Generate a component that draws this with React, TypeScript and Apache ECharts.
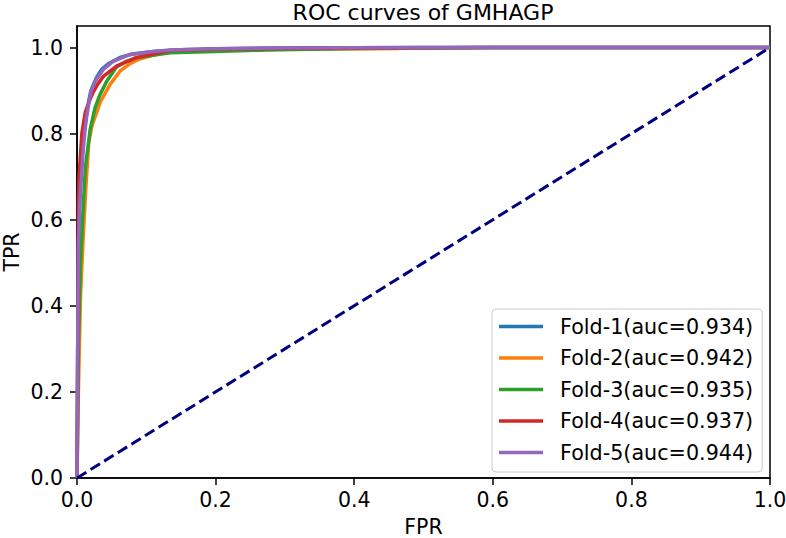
import React, { useEffect, useRef } from "react";
import * as echarts from "echarts";

const foldNames = [
  "Fold-1(auc=0.934)",
  "Fold-2(auc=0.942)",
  "Fold-3(auc=0.935)",
  "Fold-4(auc=0.937)",
  "Fold-5(auc=0.944)",
];
const foldColors = ["#1f77b4", "#ff7f0e", "#2ca02c", "#d62728", "#9467bd"];

// [FPR, TPR] points
const fold1 = [
  [0, 0], [0.001, 0.3], [0.003, 0.6], [0.006, 0.72], [0.01, 0.8], [0.015, 0.86],
  [0.02, 0.9], [0.028, 0.93], [0.036, 0.95], [0.045, 0.962], [0.062, 0.977],
  [0.08, 0.985], [0.11, 0.991], [0.15, 0.995], [0.2, 0.997], [0.3, 0.999], [0.5, 1], [1, 1],
];
const fold2 = [
  [0, 0], [0.002, 0.2], [0.005, 0.42], [0.009, 0.56], [0.013, 0.68], [0.017, 0.78],
  [0.022, 0.82], [0.034, 0.875], [0.048, 0.915], [0.062, 0.945], [0.075, 0.961],
  [0.088, 0.972], [0.115, 0.985], [0.134, 0.989], [0.2, 0.994], [0.3, 0.996], [0.465, 0.998],
];
const fold3 = [
  [0, 0], [0.002, 0.3], [0.005, 0.5], [0.008, 0.6], [0.012, 0.72], [0.019, 0.81],
  [0.026, 0.86], [0.033, 0.89], [0.043, 0.922], [0.057, 0.955], [0.07, 0.967],
  [0.086, 0.976], [0.134, 0.988], [0.2, 0.991], [0.27, 0.994], [0.4, 0.998], [0.6, 1], [1, 1],
];
const fold4 = [
  [0, 0], [0.0005, 0.06], [0.001, 0.3], [0.002, 0.64], [0.003, 0.7], [0.007, 0.8],
  [0.012, 0.85], [0.019, 0.88], [0.023, 0.895], [0.03, 0.915], [0.038, 0.933],
  [0.057, 0.957], [0.086, 0.977], [0.134, 0.993], [0.2, 0.996], [0.3, 0.998],
  [0.45, 0.999], [0.6, 1], [1, 1],
];
const fold5 = [
  [0, 0], [0.001, 0.3], [0.002, 0.546], [0.004, 0.64], [0.009, 0.763], [0.0116, 0.809],
  [0.014, 0.84], [0.018, 0.88], [0.021, 0.902], [0.028, 0.926], [0.038, 0.949],
  [0.052, 0.968], [0.077, 0.984], [0.11, 0.991], [0.134, 0.994], [0.2, 0.997],
  [0.3, 0.999], [0.5, 1], [1, 1],
];
const folds = [fold1, fold2, fold3, fold4, fold5];
const chanceLine = [[0, 0], [1, 1]];
const tickValues = [0, 0.2, 0.4, 0.6, 0.8, 1.0];

const FONT = "DejaVu Sans";

const App = () => {
  const chartRef = useRef<HTMLDivElement>(null);

  useEffect(() => {
    const chartDom = chartRef.current;
    if (!chartDom) return;
    const myChart = echarts.init(chartDom, undefined, { renderer: "svg" });

    const axisCommon = {
      type: "value" as const,
      axisLine: { show: true, onZero: false, lineStyle: { color: "#000", width: 1.5 } },
      axisTick: { show: true, inside: false, length: 7, lineStyle: { color: "#000", width: 1.5 }, customValues: tickValues },
      splitLine: { show: false },
      nameLocation: "middle" as const,
      nameMoveOverlap: false,
      nameTextStyle: { fontFamily: FONT, fontSize: 20.5, color: "#000" },
    };

    const option: any = {
      animation: false,
      backgroundColor: "#fff",
      title: {
        text: "ROC curves of GMHAGP",
        left: 423,
        textAlign: "center",
        top: 1,
        padding: 0,
        textStyle: { fontFamily: FONT, fontSize: 22, fontWeight: "normal", color: "#000" },
      },
      grid: {
        left: 77,
        right: 16,
        top: 26,
        bottom: 60,
        show: true,
        borderColor: "#000",
        borderWidth: 1.5,
        containLabel: false,
        outerBoundsMode: "none",
      },
      legend: {
        orient: "vertical",
        left: 492,
        top: 309,
        padding: [7, 9, 9, 7],
        itemWidth: 44,
        itemHeight: 20,
        itemGap: 10.5,
        icon: "path://M0 0h44v3.5H0z",
        backgroundColor: "rgba(255,255,255,0.8)",
        borderColor: "#cccccc",
        borderWidth: 1,
        borderRadius: 4,
        data: foldNames,
        textStyle: { fontFamily: FONT, fontSize: 20.7, color: "#000", padding: [0, 0, 0, 12] },
      },
      xAxis: {
        ...axisCommon,
        min: 0,
        max: 1,
        interval: 0.2,
        name: "FPR",
        nameGap: 38,
        axisLabel: {
          fontFamily: FONT,
          fontSize: 20.5,
          color: "#000",
          margin: 11,
          customValues: tickValues,
          formatter: (v: number) => v.toFixed(1),
        },
      },
      yAxis: {
        ...axisCommon,
        min: 0,
        max: 1.05,
        name: "TPR",
        nameGap: 55,
        axisLabel: {
          fontFamily: FONT,
          fontSize: 20.5,
          color: "#000",
          margin: 14,
          customValues: tickValues,
          formatter: (v: number) => v.toFixed(1),
        },
      },
      series: [
        ...folds.map((d, i) => ({
          name: foldNames[i],
          type: "line",
          data: d,
          showSymbol: false,
          symbol: "none",
          color: foldColors[i],
          lineStyle: { color: foldColors[i], width: 3.5 },
          z: 3 + i,
        })),
        {
          name: "chance",
          type: "line",
          data: chanceLine,
          showSymbol: false,
          symbol: "none",
          lineStyle: { color: "#000080", width: 3, type: [11, 5] },
          z: 10,
        },
      ],
    };

    myChart.setOption(option);
    return () => {
      myChart.dispose();
    };
  }, []);

  return (
    <div
      ref={chartRef}
      style={{ position: "absolute", left: 0, top: 0, width: "786px", height: "538px" }}
    />
  );
};

export default App;
